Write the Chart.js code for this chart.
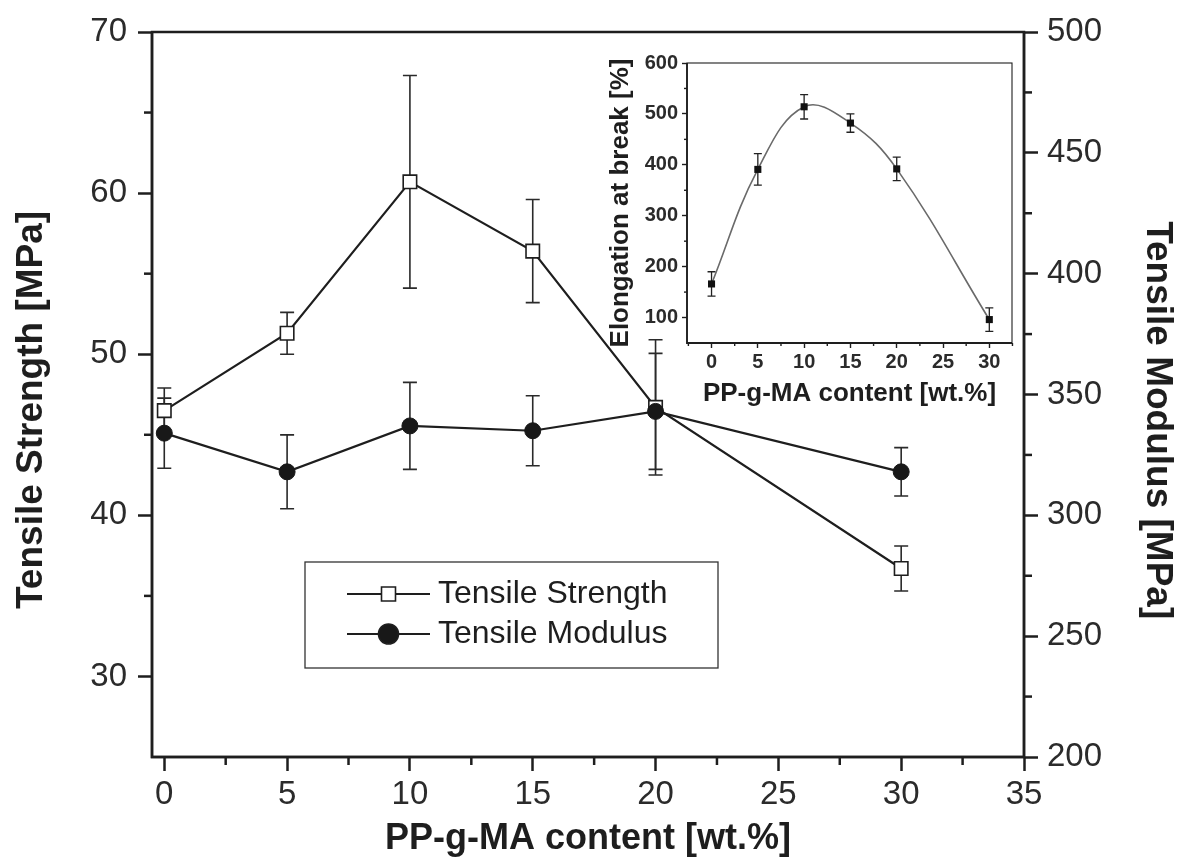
<!DOCTYPE html>
<html>
<head>
<meta charset="utf-8">
<script src="https://cdn.jsdelivr.net/npm/chart.js@4.4.1/dist/chart.umd.min.js"></script>
<style>
  html, body { margin: 0; padding: 0; background: #fff; }
  #wrap { position: relative; width: 1183px; height: 864px; }
  #main { position: absolute; left: 0; top: 0; }
  #inset { position: absolute; left: 595px; top: 40px; }
</style>
</head>
<body>
<div id="wrap">
  <canvas id="main" width="1183" height="864"></canvas>
  <canvas id="inset" width="430" height="375"></canvas>
</div>
<script>
// PP-g-MA content vs. tensile properties, with elongation inset

var content = [0, 5, 10, 15, 20, 30];
var strength = [46.5, 51.3, 60.7, 56.4, 46.7, 36.7];
var strengthErr = [1.4, 1.3, 6.6, 3.2, 4.2, 1.4];
var modulus = [334, 318, 337, 335, 343, 318];
var modulusErr = [14.5, 15.3, 18, 14.5, 24, 10];
var elongation = [166, 391, 514, 482, 392, 96];
var elongationErr = [24, 31, 24, 18, 23, 23];

var xTicks = [0, 5, 10, 15, 20, 25, 30, 35];
var xMinor = [2.5, 7.5, 12.5, 17.5, 22.5, 27.5, 32.5];
var strengthTicks = [30, 40, 50, 60, 70];
var strengthMinor = [35, 45, 55, 65];
var modulusTicks = [200, 250, 300, 350, 400, 450, 500];
var modulusMinor = [225, 275, 325, 375, 425, 475];
var insetXTicks = [0, 5, 10, 15, 20, 25, 30];
var insetXMinor = [-2.5, 2.5, 7.5, 12.5, 17.5, 22.5, 27.5, 32.5];
var insetYTicks = [100, 200, 300, 400, 500, 600];
var insetYMinor = [150, 250, 350, 450, 550];

var FONT = '"Liberation Sans", Arial, Helvetica, sans-serif';
var INK = '#1e1e1e';

function points(ys) {
  return content.map(function (x, i) { return { x: x, y: ys[i] }; });
}

function fixTicks(list) {
  return function (scale) { scale.ticks = list.map(function (v) { return { value: v }; }); };
}

// vertical error bars with caps, under the markers
var errorBars = {
  id: 'errorBars',
  beforeDatasetsDraw: function (chart, args, opts) {
    var ctx = chart.ctx;
    chart.data.datasets.forEach(function (ds, i) {
      if (!ds.errors) return;
      var meta = chart.getDatasetMeta(i);
      var ys = chart.scales[meta.yAxisID];
      ctx.save();
      ctx.strokeStyle = opts.color;
      ctx.lineWidth = opts.width;
      meta.data.forEach(function (pt, j) {
        var v = ds.data[j].y, e = ds.errors[j];
        var top = ys.getPixelForValue(v + e), bot = ys.getPixelForValue(v - e);
        ctx.beginPath();
        ctx.moveTo(pt.x, top); ctx.lineTo(pt.x, bot);
        ctx.moveTo(pt.x - opts.cap, top); ctx.lineTo(pt.x + opts.cap, top);
        ctx.moveTo(pt.x - opts.cap, bot); ctx.lineTo(pt.x + opts.cap, bot);
        ctx.stroke();
      });
      ctx.restore();
    });
  }
};

// box round the plot and the minor ticks
var frame = {
  id: 'frame',
  afterDraw: function (chart, args, opts) {
    var ctx = chart.ctx, a = chart.chartArea;
    ctx.save();
    ctx.strokeStyle = INK;
    ctx.lineWidth = opts.box;
    ctx.strokeRect(a.left, a.top, a.right - a.left, a.bottom - a.top);
    ctx.lineWidth = opts.edge;
    ctx.beginPath();
    ctx.moveTo(a.left, a.top); ctx.lineTo(a.left, a.bottom); ctx.lineTo(a.right, a.bottom);
    if (opts.rightEdge) ctx.lineTo(a.right, a.top);
    ctx.stroke();
    ctx.lineWidth = opts.tickWidth;
    opts.minor.forEach(function (m) {
      var s = chart.scales[m.axis];
      m.values.forEach(function (v) {
        var p = s.getPixelForValue(v);
        ctx.beginPath();
        if (s.position === 'bottom') { ctx.moveTo(p, a.bottom); ctx.lineTo(p, a.bottom + m.len); }
        else if (s.position === 'left') { ctx.moveTo(a.left, p); ctx.lineTo(a.left - m.len, p); }
        else { ctx.moveTo(a.right, p); ctx.lineTo(a.right + m.len, p); }
        ctx.stroke();
      });
    });
    ctx.restore();
  }
};

// boxed legend inside the plot
var seriesKey = {
  id: 'seriesKey',
  afterDraw: function (chart, args, opts) {
    var ctx = chart.ctx;
    ctx.save();
    ctx.strokeStyle = '#333';
    ctx.lineWidth = 1.3;
    ctx.strokeRect(opts.left, opts.top, opts.width, opts.height);
    ctx.font = opts.fontSize + 'px ' + FONT;
    ctx.textBaseline = 'middle';
    chart.data.datasets.forEach(function (ds, i) {
      var y = opts.top + opts.firstRow + i * opts.rowGap;
      var x0 = opts.left + opts.lineStart, x1 = x0 + opts.lineLength, xm = (x0 + x1) / 2;
      ctx.strokeStyle = INK;
      ctx.lineWidth = 2.2;
      ctx.beginPath(); ctx.moveTo(x0, y); ctx.lineTo(x1, y); ctx.stroke();
      ctx.lineWidth = 1.6;
      ctx.fillStyle = ds.pointBackgroundColor;
      ctx.beginPath();
      if (ds.pointStyle === 'rect') ctx.rect(xm - 7, y - 7, 14, 14);
      else ctx.arc(xm, y, 10, 0, Math.PI * 2);
      ctx.fill(); ctx.stroke();
      ctx.fillStyle = INK;
      ctx.fillText(ds.label, x1 + 8, y);
    });
    ctx.restore();
  }
};

function axis(opts) {
  return Object.assign({
    type: 'linear',
    border: { display: false },
    grid: { drawOnChartArea: false, drawTicks: true, tickLength: 14, tickWidth: 2.5, tickColor: INK },
    ticks: { color: '#2b2b2b', font: { family: FONT, size: 33 } }
  }, opts);
}

new Chart(document.getElementById('main'), {
  type: 'line',
  data: {
    datasets: [
      {
        label: 'Tensile Strength', data: points(strength), errors: strengthErr, yAxisID: 'y', order: 1,
        borderColor: INK, borderWidth: 2.2, tension: 0,
        pointStyle: 'rect', pointRadius: 9.5, pointBackgroundColor: '#fff', pointBorderColor: INK, pointBorderWidth: 1.6
      },
      {
        label: 'Tensile Modulus', data: points(modulus), errors: modulusErr, yAxisID: 'y1', order: 0,
        borderColor: INK, borderWidth: 2.2, tension: 0,
        pointStyle: 'circle', pointRadius: 8, pointBackgroundColor: '#181818', pointBorderColor: '#181818', pointBorderWidth: 1
      }
    ]
  },
  options: {
    responsive: false, animation: false, devicePixelRatio: 1,
    layout: { padding: { top: 32 } },
    plugins: {
      legend: { display: false }, tooltip: { enabled: false },
      errorBars: { color: '#2a2a2a', width: 1.6, cap: 7 },
      frame: {
        box: 2.5, edge: 2.5, rightEdge: true, tickWidth: 2.5,
        minor: [
          { axis: 'x', values: xMinor, len: 8 },
          { axis: 'y', values: strengthMinor, len: 8 },
          { axis: 'y1', values: modulusMinor, len: 8 }
        ]
      },
      seriesKey: { left: 305, top: 562, width: 413, height: 106, lineStart: 42, lineLength: 83, firstRow: 32, rowGap: 40, fontSize: 32 }
    },
    scales: {
      x: axis({
        position: 'bottom', min: -0.5, max: 35,
        afterBuildTicks: fixTicks(xTicks),
        afterFit: function (s) { s.height = 107; },
        ticks: { color: '#2b2b2b', padding: 4, maxRotation: 0, font: { family: FONT, size: 33 } },
        title: { display: true, text: 'PP-g-MA content [wt.%]', color: INK, padding: { bottom: 3 }, font: { family: FONT, size: 36, weight: 'bold' } }
      }),
      y: axis({
        position: 'left', min: 25, max: 70,
        afterBuildTicks: fixTicks(strengthTicks),
        afterFit: function (s) { s.width = 152; },
        ticks: { color: '#2b2b2b', padding: 11, font: { family: FONT, size: 33 } },
        title: { display: true, text: 'Tensile Strength [MPa]   ', color: INK, padding: { top: 10 }, font: { family: FONT, size: 37, weight: 'bold' } }
      }),
      y1: axis({
        position: 'right', min: 200, max: 500,
        afterBuildTicks: fixTicks(modulusTicks),
        afterFit: function (s) { s.width = 159; },
        ticks: { color: '#2b2b2b', padding: 9, font: { family: FONT, size: 33 } },
        title: { display: true, text: '     Tensile Modulus [MPa]', color: INK, padding: { top: 4 }, font: { family: FONT, size: 37, weight: 'bold' } }
      })
    }
  },
  plugins: [errorBars, frame, seriesKey]
});

new Chart(document.getElementById('inset'), {
  type: 'line',
  data: {
    datasets: [{
      label: 'Elongation at break', data: points(elongation), errors: elongationErr, yAxisID: 'y',
      borderColor: '#6a6a6a', borderWidth: 1.6, tension: 0.4,
      pointStyle: 'rect', pointRadius: 5, pointBackgroundColor: '#111', pointBorderColor: '#111', pointBorderWidth: 0
    }]
  },
  options: {
    responsive: false, animation: false, devicePixelRatio: 1,
    layout: { padding: { top: 23, right: 13 } },
    plugins: {
      legend: { display: false }, tooltip: { enabled: false },
      errorBars: { color: '#222', width: 1.3, cap: 4 },
      frame: {
        box: 1.1, edge: 1.8, rightEdge: false, tickWidth: 1.4,
        minor: [
          { axis: 'x', values: insetXMinor, len: 3 },
          { axis: 'y', values: insetYMinor, len: 3 }
        ]
      }
    },
    scales: {
      x: {
        type: 'linear', position: 'bottom', min: -2.65, max: 32.45,
        afterBuildTicks: fixTicks(insetXTicks),
        afterFit: function (s) { s.height = 72; },
        border: { display: false },
        grid: { drawOnChartArea: false, tickLength: 5, tickWidth: 1.4, tickColor: INK },
        ticks: { color: '#2b2b2b', padding: 2, maxRotation: 0, font: { family: FONT, size: 20, weight: 'bold' } },
        title: { display: true, text: 'PP-g-MA content [wt.%]', color: INK, padding: { bottom: 6 }, font: { family: FONT, size: 26, weight: 'bold' } }
      },
      y: {
        type: 'linear', position: 'left', min: 50, max: 600,
        afterBuildTicks: fixTicks(insetYTicks),
        afterFit: function (s) { s.width = 92; },
        border: { display: false },
        grid: { drawOnChartArea: false, tickLength: 5, tickWidth: 1.4, tickColor: INK },
        ticks: { color: '#2b2b2b', padding: 4, font: { family: FONT, size: 20, weight: 'bold' } },
        title: { display: true, text: 'Elongation at break [%]', color: INK, padding: { top: 10 }, font: { family: FONT, size: 26, weight: 'bold' } }
      }
    }
  },
  plugins: [errorBars, frame]
});
</script>
</body>
</html>
